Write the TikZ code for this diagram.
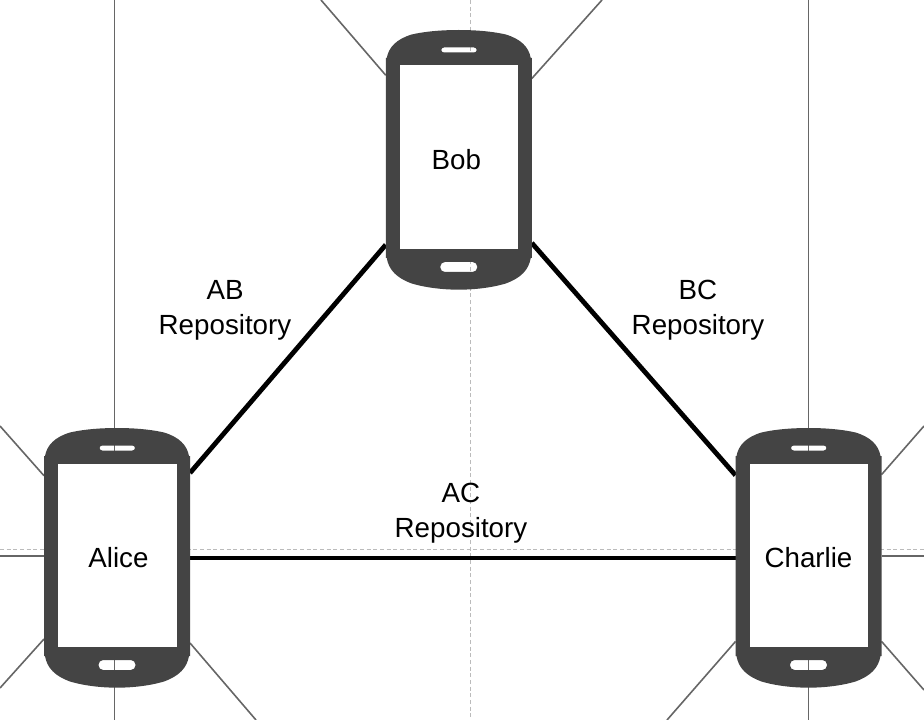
\documentclass[tikz,border=0pt]{standalone}
\usepackage{fontspec}
\setmainfont{Liberation Sans}
\usetikzlibrary{backgrounds}
\definecolor{phonegrey}{HTML}{444444}
\definecolor{spokegrey}{HTML}{666666}
\definecolor{guidegrey}{HTML}{BBBBBB}
\tikzset{
  x=0.75pt,y=-0.75pt,
  phonebox/.style={minimum width=109.5pt,minimum height=195pt,inner sep=0pt,outer sep=0pt,font=\fontsize{20.8}{26.25}\selectfont,align=center},
  tag/.style={inner sep=0pt,font=\fontsize{20.8}{26.25}\selectfont,align=center},
  link/.style={draw=black,line width=3.6pt},
  spoke/.style={draw=spokegrey,line width=1.2pt},
  guide/.style={draw=guidegrey,line width=0.6pt,dash pattern=on 3pt off 2pt},
  phonebody/.style={fill=phonegrey,even odd rule},
  phonescreen/.style={fill=white}
}
\newcommand{\phonedevice}[4]{%
  \begin{scope}[shift={(#2,#3)}]
    \path[phonebody]
      (-73,-102) -- (-72,-102)
      .. controls (-70,-113) and (-62,-121) .. (-47,-125.5)
      .. controls (-32,-129) and (-14,-130) .. (0,-130)
      .. controls (14,-130) and (32,-129) .. (47,-125.5)
      .. controls (62,-121) and (70,-113) .. (72,-102)
      -- (73,-102) -- (73,98) -- (72,98)
      .. controls (70,110) and (62,118) .. (47,123.5)
      .. controls (32,128) and (14,129.7) .. (0,129.7)
      .. controls (-14,129.7) and (-32,128) .. (-47,123.5)
      .. controls (-62,118) and (-70,110) .. (-72,98)
      -- (-73,98) -- cycle
      [rounded corners=2pt]
      (-17.5,-112.5) rectangle (18,-107.5)
      [rounded corners=3.5pt]
      (-18.5,102) rectangle (18.5,112);
    \path[phonescreen] (-59,-94.5) rectangle (59.5,89);
  \end{scope}
  \node[phonebox] (#1) at (#2,#3) {#4};
}
\begin{document}
\begin{tikzpicture}
  \useasboundingbox (0,0) rectangle (924,720);
  \phonedevice{bob}{458.75}{160}{\kern-3.5pt Bob}
  \phonedevice{alice}{117}{558}{\kern2.2pt Alice}
  \phonedevice{charlie}{808.5}{558}{Charlie}
  \node[tag] (ab) at (225,310.5) {AB\\Repository};
  \node[tag] (bc) at (698,310.5) {BC\\Repository};
  \node[tag] (ac) at (461,513.5) {AC\\Repository};
  \coordinate (gt) at (470.5,0);
  \coordinate (gb) at (470.5,720);
  \coordinate (gl) at (0,549.5);
  \coordinate (gr) at (924,549.5);
  \coordinate (bobTL) at (321,0);
  \coordinate (bobTR) at (602,0);
  \coordinate (aliceT) at (114.5,0);
  \coordinate (aliceB) at (114.5,720);
  \coordinate (aliceTL) at (0,426);
  \coordinate (aliceBL) at (0,688);
  \coordinate (aliceBR) at (256,720);
  \coordinate (aliceL) at (0,555.7);
  \coordinate (charlieT) at (808.3,0);
  \coordinate (charlieB) at (808.3,720);
  \coordinate (charlieTR) at (924,426);
  \coordinate (charlieBL) at (667,720);
  \coordinate (charlieBR) at (924,690);
  \coordinate (charlieR) at (924,555.7);
  \begin{pgfonlayer}{background}
    \draw[guide] (gt) -- (gb);
    \draw[guide] (gl) -- (gr);
    \draw[spoke] (aliceT) -- (aliceB);
    \draw[spoke] (charlieT) -- (charlieB);
    \draw[spoke] (bob) -- (bobTL);
    \draw[spoke] (bob) -- (bobTR);
    \draw[spoke] (alice) -- (aliceTL);
    \draw[spoke] (alice) -- (aliceBL);
    \draw[spoke] (alice) -- (aliceBR);
    \draw[spoke] (aliceL) -- (aliceL -| alice.west);
    \draw[spoke] (charlie) -- (charlieTR);
    \draw[spoke] (charlie) -- (charlieBL);
    \draw[spoke] (charlie) -- (charlieBR);
    \draw[spoke] (charlieR) -- (charlieR -| charlie.east);
    \draw[link] (alice) -- (bob);
    \draw[link] (bob) -- (charlie);
    \draw[link] (alice) -- (charlie);
  \end{pgfonlayer}
\end{tikzpicture}
\end{document}
